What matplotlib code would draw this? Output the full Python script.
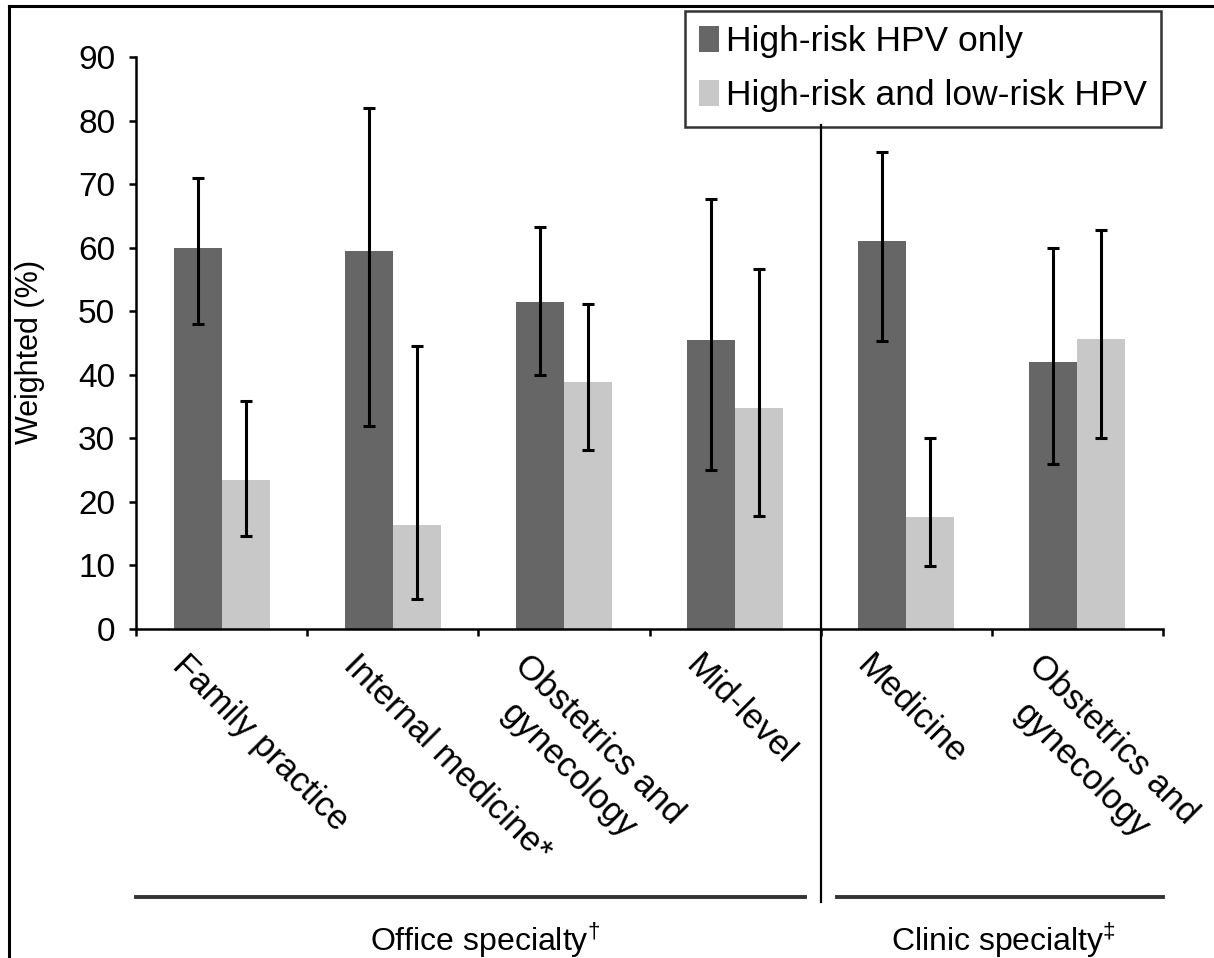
import matplotlib.pyplot as plt
import matplotlib.transforms as mtransforms
from matplotlib.lines import Line2D
import numpy as np

plt.rcParams['font.family'] = ['Liberation Sans', 'DejaVu Sans']
plt.rcParams['mathtext.fontset'] = 'custom'
plt.rcParams['mathtext.rm'] = 'Liberation Sans'

categories = ['Family practice', 'Internal medicine*', 'Obstetrics and\ngynecology',
              'Mid-level', 'Medicine', 'Obstetrics and\ngynecology']
series_names = ['High-risk HPV only', 'High-risk and low-risk HPV']

# weighted % and 95% CI bounds
high_only = [60, 59.5, 51.5, 45.5, 61, 42]
high_only_lo = [48, 32, 40, 25, 45.3, 26]
high_only_hi = [71, 82, 63.3, 67.7, 75, 60]

high_low = [23.4, 16.3, 38.9, 34.8, 17.7, 45.7]
high_low_lo = [14.6, 4.7, 28.2, 17.8, 9.9, 30]
high_low_hi = [35.8, 44.6, 51.1, 56.7, 30, 62.8]

group_names = ['Office specialty$^{\\dagger}$', 'Clinic specialty$^{\\ddagger}$']

dark = '#666666'
light = '#c8c8c8'
fs = 23

fig = plt.figure(figsize=(12.14, 9.58), dpi=100)
ax = fig.add_axes([136 / 1214, 1 - 629 / 958, (1163 - 136) / 1214, (629 - 57) / 958])

x = np.arange(len(categories))
w = 0.28

def err(vals, lo, hi):
    vals = np.array(vals)
    return [vals - np.array(lo), np.array(hi) - vals]

ax.bar(x - w / 2, high_only, w, color=dark, label=series_names[0], zorder=2)
ax.bar(x + w / 2, high_low, w, color=light, label=series_names[1], zorder=2)
ax.errorbar(x - w / 2, high_only, yerr=err(high_only, high_only_lo, high_only_hi),
            fmt='none', ecolor='black', elinewidth=2.2, capsize=4, capthick=2.2, zorder=3)
ax.errorbar(x + w / 2, high_low, yerr=err(high_low, high_low_lo, high_low_hi),
            fmt='none', ecolor='black', elinewidth=2.2, capsize=4, capthick=2.2, zorder=3)

ax.set_xlim(-0.5, len(categories) - 0.5)
ax.set_ylim(0, 90)
ax.set_yticks(np.arange(0, 91, 10))
ax.set_xticks(np.arange(-0.5, len(categories), 1.0))
ax.set_xticklabels([])
ax.tick_params(axis='y', labelsize=fs + 1, length=5, width=1.8, pad=10, direction='out')
ax.tick_params(axis='x', length=5, width=1.8, direction='out')
for s in ['top', 'right']:
    ax.spines[s].set_visible(False)
for s in ['left', 'bottom']:
    ax.spines[s].set_linewidth(1.8)

fig.text(30 / 1214, 1 - 352 / 958, 'Weighted (%)', rotation=90, fontsize=fs - 1,
         ha='center', va='center')

# rotated category labels under the axis
off = mtransforms.ScaledTranslation(0, -20 / 100, fig.dpi_scale_trans)
for i, lab in enumerate(categories):
    ax.text(i - 0.19, 0, lab, transform=ax.get_xaxis_transform() + off,
            rotation=-45, rotation_mode='anchor', ha='left', va='top',
            multialignment='center', fontsize=25, linespacing=1.4)

# divider between office and clinic groups
tr = mtransforms.blended_transform_factory(ax.transData, fig.transFigure)
fig.add_artist(Line2D([3.5, 3.5], [1 - 125 / 958, 1 - 902 / 958], transform=tr,
                      color='black', lw=1.6))

# group brackets and labels
yb = 1 - 897 / 958
fig.add_artist(Line2D([-0.5, 3.41], [yb, yb], transform=tr, color='#333333', lw=2.8))
fig.add_artist(Line2D([3.595, 5.5], [yb, yb], transform=tr, color='#333333', lw=2.8))
fig.text(485 / 1214, 1 - 940 / 958, group_names[0], fontsize=fs, ha='center', va='center')
fig.text(1003 / 1214, 1 - 940 / 958, group_names[1], fontsize=fs, ha='center', va='center')

leg = ax.legend(loc='upper right', bbox_to_anchor=(1161 / 1214, 1 - 11 / 958),
                bbox_transform=fig.transFigure, fontsize=25.5, frameon=True,
                fancybox=False, borderaxespad=0, handlelength=0.55, handleheight=0.75,
                handletextpad=0.2, labelspacing=0.6, borderpad=0.4)
leg.get_frame().set_edgecolor('black')
leg.get_frame().set_linewidth(1.8)

# outer frame of the original figure
fig.add_artist(Line2D([9 / 1214, 1], [1 - 6 / 958, 1 - 6 / 958], transform=fig.transFigure,
                      color='black', lw=2.2))
fig.add_artist(Line2D([9 / 1214, 9 / 1214], [0, 1 - 6 / 958], transform=fig.transFigure,
                      color='black', lw=2.2))

fig.savefig('out.png', dpi=100)
